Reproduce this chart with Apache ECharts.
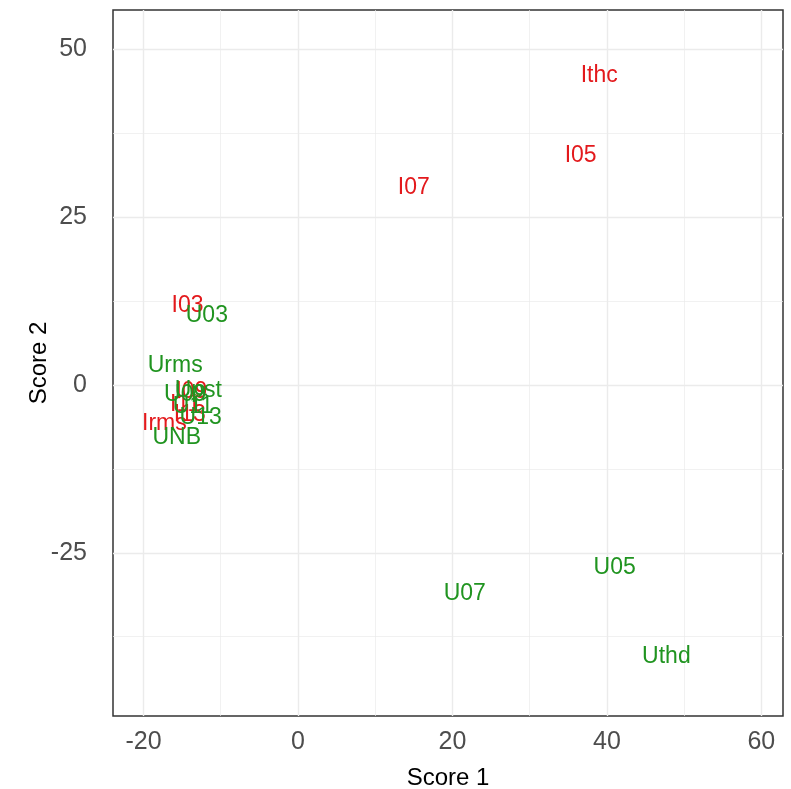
<!DOCTYPE html>
<html>
<head>
<meta charset="utf-8">
<script src="https://cdn.jsdelivr.net/npm/echarts@6/dist/echarts.min.js"></script>
<style>
  html, body { margin: 0; padding: 0; background: #fff; }
  #chart { width: 791px; height: 789px; }
</style>
</head>
<body>
<div id="chart"></div>
<script>
// current (I) loadings, drawn in red
const currentNames = ['Ithc', 'I05', 'I07', 'I03', 'I09', 'I11', 'I13', 'Irms']
const currentX = [39.0, 36.6, 15.0, -14.3, -13.8, -14.6, -14.0, -17.3]
const currentY = [46.0, 34.1, 29.3, 11.8, -1.0, -2.9, -4.5, -5.8]

// voltage (U) loadings, drawn in green
const voltageNames = ['Uthd', 'U05', 'U07', 'U03', 'Urms', 'U09', 'Upst', 'U11', 'U13', 'UNB']
const voltageX = [47.7, 41.0, 21.6, -11.8, -15.9, -14.6, -12.9, -13.6, -12.6, -15.7]
const voltageY = [-40.5, -27.2, -31.1, 10.3, 2.8, -1.4, -0.9, -3.2, -4.9, -7.9]

// axis ticks and grid lines
const xTicks = [-20, 0, 20, 40, 60]
const xMinor = [-10, 10, 30, 50]
const yTicks = [-25, 0, 25, 50]
const yMinor = [-37.5, -12.5, 12.5, 37.5]

const chart = echarts.init(document.getElementById('chart'))

const font = 'Liberation Sans, Arial, sans-serif'
const gridColor = '#ebebeb'

const toPoints = (names, xs, ys) => names.map((n, i) => ({ name: n, value: [xs[i], ys[i]] }))

const textSeries = (name, points, color) => ({
  name,
  type: 'scatter',
  data: points,
  symbolSize: 4,
  itemStyle: { color: 'transparent', opacity: 1 },
  z: 5,
  label: {
    show: true,
    position: 'inside',
    formatter: p => p.name,
    color,
    fontFamily: font,
    fontSize: 23
  }
})

const gridLines = [
  ...xMinor.map(v => ({ xAxis: v, lineStyle: { width: 0.7 } })),
  ...yMinor.map(v => ({ yAxis: v, lineStyle: { width: 0.7 } })),
  ...xTicks.map(v => ({ xAxis: v, lineStyle: { width: 1.4 } })),
  ...yTicks.map(v => ({ yAxis: v, lineStyle: { width: 1.4 } }))
]

const option = {
  animation: false,
  grid: {
    left: 113,
    right: 8,
    top: 10,
    bottom: 73,
    outerBoundsMode: 'none',
    containLabel: false,
    show: true,
    borderColor: '#333333',
    borderWidth: 1.5,
    backgroundColor: 'transparent'
  },
  xAxis: {
    type: 'value',
    min: -23.95,
    max: 62.8,
    name: 'Score 1',
    nameLocation: 'middle',
    nameGap: 50,
    nameMoveOverlap: false,
    nameTextStyle: { fontFamily: font, fontSize: 24, color: '#000' },
    axisLine: { show: false },
    axisTick: { show: true, customValues: xTicks, length: 6, lineStyle: { color: '#333' } },
    axisLabel: { customValues: xTicks, fontFamily: font, fontSize: 25, color: '#4d4d4d', margin: 14 },
    splitLine: { show: false }
  },
  yAxis: {
    type: 'value',
    min: -49.3,
    max: 55.8,
    name: 'Score 2',
    nameLocation: 'middle',
    nameGap: 62,
    nameMoveOverlap: false,
    nameTextStyle: { fontFamily: font, fontSize: 24, color: '#000' },
    axisLine: { show: false },
    axisTick: { show: true, customValues: yTicks, length: 6, lineStyle: { color: '#333' } },
    axisLabel: { customValues: yTicks, fontFamily: font, fontSize: 25, color: '#4d4d4d', margin: 26 },
    splitLine: { show: false }
  },
  series: [
    {
      name: 'grid',
      type: 'scatter',
      data: [],
      silent: true,
      z: 1,
      markLine: {
        silent: true,
        symbol: 'none',
        animation: false,
        label: { show: false },
        lineStyle: { color: gridColor, type: 'solid' },
        data: gridLines
      }
    },
    textSeries('current', toPoints(currentNames, currentX, currentY), '#e3191c'),
    textSeries('voltage', toPoints(voltageNames, voltageX, voltageY), '#209420')
  ]
}

chart.setOption(option)
</script>
</body>
</html>
